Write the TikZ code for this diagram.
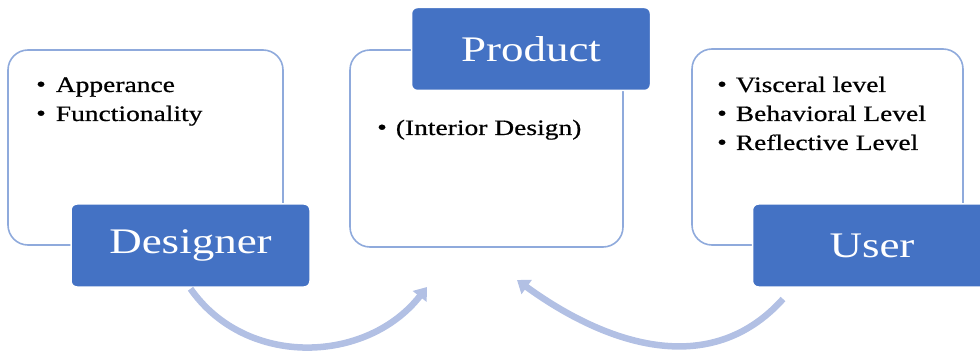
\documentclass[tikz,border=0pt]{standalone}
\usepackage{fontspec}
\setmainfont[FakeStretch=1.25]{Liberation Serif}
\newfontfamily\bodyfont[FakeStretch=1.25,FakeBold=0.6]{Liberation Serif}
\usetikzlibrary{arrows.meta}
\definecolor{boxblue}{RGB}{68,114,196}
\definecolor{edgeblue}{RGB}{143,170,220}
\definecolor{arrowblue}{RGB}{178,192,228}
\tikzset{
  whitebox/.style={draw=edgeblue, line width=1.6pt, fill=white, rounded corners=20pt, inner sep=0pt},
  bluebox/.style={draw=white, line width=1.5pt, fill=boxblue, rounded corners=6pt, inner sep=0pt,
     text=white, font=\fontsize{36}{40}\selectfont, minimum width=239pt, minimum height=83pt},
  listtext/.style={anchor=base west, inner sep=0pt, font=\bodyfont\fontsize{22}{29}\selectfont, text=black},
  cycarrow/.style={draw=arrowblue, line width=6.5pt, -{Triangle[width=17pt,length=12pt]}}
}
\newcommand{\bl}{\raisebox{0.5pt}{\textbullet}}
\begin{document}
\begin{tikzpicture}[x=1pt,y=-1pt]
\useasboundingbox (0,0) rectangle (980,358);
\begin{scope}
\clip (0,0) rectangle (980,358);
% white content boxes
\node[whitebox, minimum width=275pt, minimum height=195pt] (dbox) at (145.5,147.5) {};
\node[whitebox, minimum width=273pt, minimum height=197pt] (pbox) at (486.5,148.5) {};
\node[whitebox, minimum width=271pt, minimum height=196pt] (ubox) at (827.5,147) {};
% lists
\node[listtext] (dlist) at (36,92) {\begin{tabular}[t]{@{}l@{\hspace{10pt}}l@{}}\bl & Apperance\\ \bl & Functionality\end{tabular}};
\node[listtext] (plist) at (377,135) {\begin{tabular}[t]{@{}l@{\hspace{9pt}}l@{}}\bl & (Interior Design)\end{tabular}};
\node[listtext] (ulist) at (717,92) {\begin{tabular}[t]{@{}l@{\hspace{9pt}}l@{}}\bl & Visceral level\\ \bl & Behavioral Level\\ \bl & Reflective Level\end{tabular}};
% blue title boxes
\node[bluebox] (designer) at (190.5,245.5) {Designer};
\node[bluebox] (product) at (531,49) {Product};
\node[bluebox] (user) at (872,245.5) {User};
% arrows
\coordinate (a1s) at ([yshift=-1pt]designer.south);
\coordinate (a1e) at (427,287);
\coordinate (a2s) at (783,299);
\coordinate (a2e) at (517,280);
\draw[cycarrow] (a1s) to[out=-55,in=-128,looseness=1.05] (a1e);
\draw[cycarrow] (a2s) to[out=-132,in=-36,looseness=1.05] (a2e);
\end{scope}
\end{tikzpicture}
\end{document}
